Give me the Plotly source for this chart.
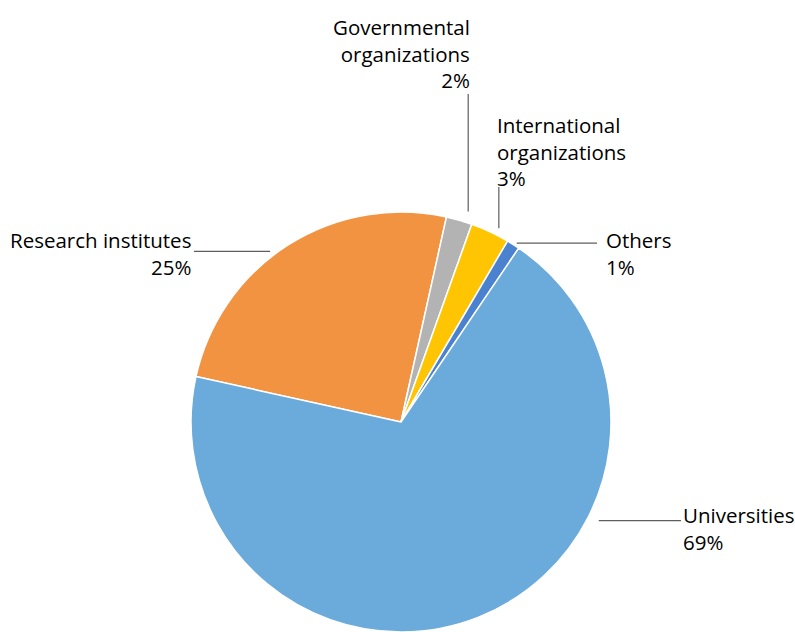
import math
import plotly.graph_objects as go

# Share of participants by type of organisation (percent)
categories = ["Research institutes", "Governmental<br>organizations",
              "International<br>organizations", "Others", "Universities"]
shares = [25, 2, 3, 1, 69]
slice_colors = ["#F29341", "#B3B3B3", "#FFC502", "#4A82CF", "#6AABDC"]

W, H = 795, 632
CX, R = 401, 210            # pie centre x and radius in pixels
CY = H - R                  # pie sits on the bottom edge of the canvas
START = -77.5               # angle (deg, clockwise from 12 o'clock) of first slice

FONT = dict(family="Open Sans", size=20.5, color="#000000")
LINE_COLOR = "#5E5E5E"

# label layout: text anchor (px), alignment, leader anchor angle on the rim,
# gap from the rim, and where the leader ends (horizontal or vertical run)
label_layout = [
    dict(ax=193, ay=224, xanchor="right", angle=322.5, gap=5, end=("x", 194)),
    dict(ax=472, ay=11, xanchor="right", angle=17.7, gap=11, end=("y", 94)),
    dict(ax=495, ay=109, xanchor="left", angle=26.8, gap=7, end=("y", 187)),
    dict(ax=604, ay=224, xanchor="left", angle=32.9, gap=3, end=("x", 597)),
    dict(ax=681, ay=499, xanchor="left", angle=116.5, gap=11, end=("x", 681)),
]


def px(x):
    return x / W


def py(y):
    return 1 - y / H


fig = go.Figure(go.Pie(
    labels=[c.replace("<br>", " ") for c in categories],
    values=shares,
    sort=False,
    direction="clockwise",
    rotation=START,
    marker=dict(colors=slice_colors, line=dict(color="white", width=1.5)),
    textinfo="none",
    hoverinfo="label+percent",
    showlegend=False,
    domain=dict(x=[px(CX - R), px(CX + R)], y=[0, 2 * R / H]),
))

annotations, shapes = [], []
for name, val, lay in zip(categories, shares, label_layout):
    annotations.append(dict(
        text=f"{name}<br>{val}%", x=px(lay["ax"]), y=py(lay["ay"]),
        xref="paper", yref="paper", xanchor=lay["xanchor"], yanchor="top",
        align=lay["xanchor"], showarrow=False, font=FONT,
    ))
    a = math.radians(lay["angle"])
    rr = R + lay["gap"]
    x0 = CX + rr * math.sin(a)
    y0 = CY - rr * math.cos(a)
    axis, v = lay["end"]
    x1, y1 = (v, y0) if axis == "x" else (x0, v)
    shapes.append(dict(type="line", xref="paper", yref="paper",
                       x0=px(x0), y0=py(y0), x1=px(x1), y1=py(y1),
                       line=dict(color=LINE_COLOR, width=1.2)))

fig.update_layout(
    width=W, height=H,
    margin=dict(l=0, r=0, t=0, b=0),
    paper_bgcolor="white", plot_bgcolor="white",
    annotations=annotations, shapes=shapes,
)

fig.write_html("out.html")
